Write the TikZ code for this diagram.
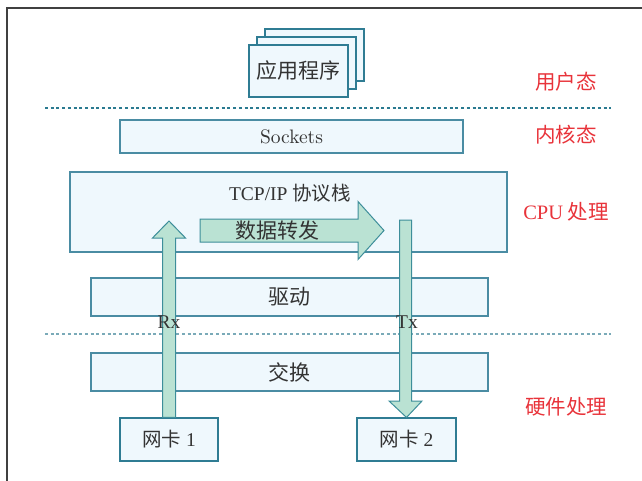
\documentclass[tikz,border=0pt]{standalone}
\usepackage{fontspec}
\newfontfamily\cjk{Noto Sans CJK SC}
\newfontfamily\tms{Liberation Serif}
\newfontfamily\lmten[Extension=.otf]{lmroman10-regular}
\usetikzlibrary{calc}
\definecolor{boxfill}{HTML}{EFF8FD}
\definecolor{boxline}{HTML}{4A8CA3}
\definecolor{boxdark}{HTML}{2F7C93}
\definecolor{arrfill}{HTML}{BAE2D3}
\definecolor{arrline}{HTML}{3D8E9A}
\definecolor{redtxt}{HTML}{E8333A}
\definecolor{txt}{HTML}{333333}
\definecolor{dashA}{HTML}{2A7A90}
\definecolor{dashB}{HTML}{7AAAB8}
\begin{document}
\begin{tikzpicture}[x=1pt,y=-1pt,
  box/.style={draw=boxline,fill=boxfill,line width=1.1pt,inner sep=0pt,text=txt},
  darkbox/.style={box,draw=boxdark},
  bigarrow/.style={draw=arrline,fill=arrfill,line width=1pt,line join=miter},
  zh/.style={font=\fontsize{21}{24}\selectfont\cjk,text=txt},
  side/.style={font=\fontsize{20.5}{24}\selectfont\cjk,text=redtxt},
  lat/.style={font=\fontsize{19.5}{24}\selectfont\tms,text=txt},
  divline/.style={line width=1.1pt,dash pattern=on 3pt off 2.7pt}]
\useasboundingbox (0,0) rectangle (642,481);
% frame
\draw[line width=1.5pt,draw=black!75] (7,490) -- (7,8) -- (650,8);
% application stack
\node[darkbox,minimum width=99pt,minimum height=52pt] (app3) at (314.5,55) {};
\node[darkbox,minimum width=99pt,minimum height=52pt] (app2) at (306.5,63) {};
\node[darkbox,minimum width=99pt,minimum height=52pt,zh] (app) at (298.5,71) {应用程序};
% divider lines
\coordinate (d1a) at (45,108); \coordinate (d1b) at (611,108);
\coordinate (d2a) at (45,334); \coordinate (d2b) at (611,334);
\draw[divline,draw=dashA] (d1a) -- (d1b);
\draw[divline,draw=dashB] (d2a) -- (d2b);
% layers
\node[box,minimum width=343pt,minimum height=33pt,font=\fontsize{19.5}{24}\selectfont\lmten] (sock) at (291.5,136.5) {Sockets};
\node[box,minimum width=437pt,minimum height=80pt] (tcp) at (288.5,212) {};
\node[lat,anchor=center] (tcplab) at (290,193) {TCP/IP {\cjk 协议栈}};
\node[box,minimum width=397pt,minimum height=38pt,zh] (drv) at (289.5,297) {驱动};
\node[box,minimum width=397pt,minimum height=38pt,zh] (sw) at (289.5,372) {交换};
\node[darkbox,minimum width=98pt,minimum height=43pt,lat] (nic1) at (169,439.5) {{\cjk 网卡} 1};
\node[darkbox,minimum width=99pt,minimum height=43pt,lat] (nic2) at (406.5,439.5) {{\cjk 网卡} 2};
% side labels
\node[side] (user) at (566,82) {用户态};
\node[side] (kern) at (566,135) {内核态};
\node[side] (cpu) at (566,212) {{\tms CPU} 处理};
\node[side] (hw) at (566,407) {硬件处理};
% forward arrow
\coordinate (fwtail) at (200,230.5);
\coordinate (fwtip) at (384,230.5);
\draw[bigarrow] ($(fwtail)+(0,-11.5)$) -- ($(fwtip)+(-26,-11.5)$) -- ($(fwtip)+(-26,-29)$) -- (fwtip)
  -- ($(fwtip)+(-26,29)$) -- ($(fwtip)+(-26,11.5)$) -- ($(fwtail)+(0,11.5)$) -- cycle;
\node[zh] (fwd) at (277,231) {数据转发};
% Rx arrow (up)
\coordinate (rxtip) at (169,221);
\coordinate (rxhead) at (169,238);
\draw[bigarrow] ($(nic1.north)+(-6.5,0)$) -- ($(rxhead)+(-6.5,0)$) -- ($(rxhead)+(-16.5,0)$) -- (rxtip)
  -- ($(rxhead)+(16.5,0)$) -- ($(rxhead)+(6.5,0)$) -- ($(nic1.north)+(6.5,0)$) -- cycle;
% Tx arrow (down)
\coordinate (txtop) at (405.5,220);
\coordinate (txhead) at (405.5,401);
\draw[bigarrow] ($(txtop)+(-6,0)$) -- ($(txhead)+(-6,0)$) -- ($(txhead)+(-16.5,0)$) -- (nic2.north)
  -- ($(txhead)+(16.5,0)$) -- ($(txhead)+(6,0)$) -- ($(txtop)+(6,0)$) -- cycle;
% Rx / Tx labels
\node[lat] (rx) at (169,322) {Rx};
\node[lat] (tx) at (407,322) {Tx};
\end{tikzpicture}
\end{document}
